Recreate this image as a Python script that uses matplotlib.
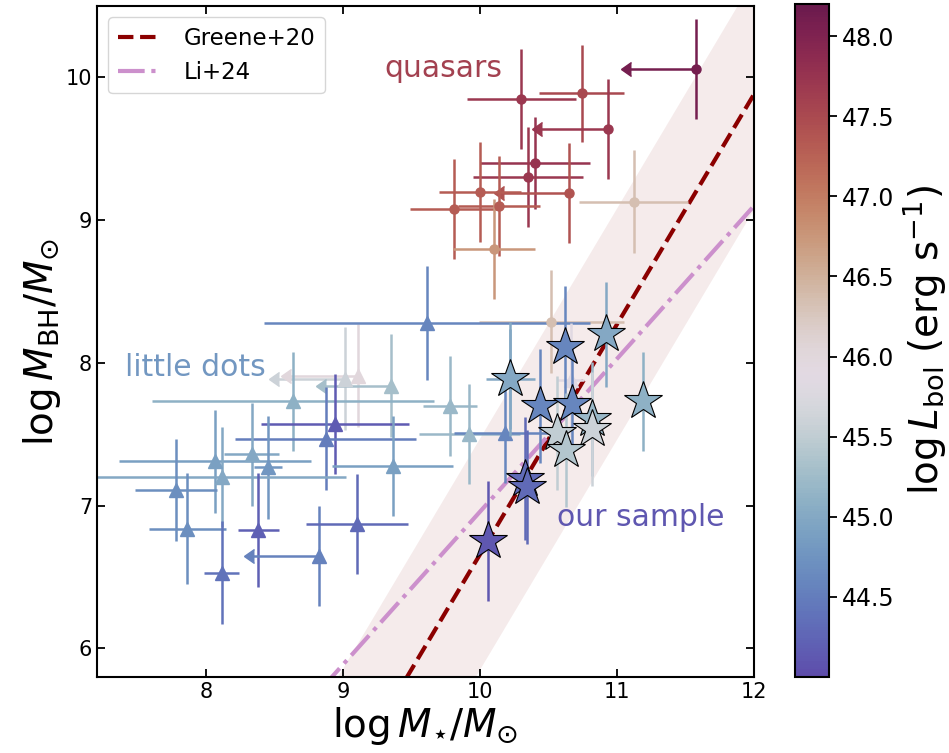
import numpy as np
import matplotlib.pyplot as plt
from matplotlib.colors import LinearSegmentedColormap, Normalize
from matplotlib.markers import CARETLEFTBASE

# quasars (circles); qso_lim = upper limit on stellar mass
qso_x = [10.30, 10.74, 10.93, 11.58, 10.40, 10.35, 10.65, 10.00, 10.14, 9.81, 10.10, 11.12, 10.52]
qso_y = [9.85, 9.89, 9.64, 10.06, 9.40, 9.30, 9.19, 9.20, 9.10, 9.08, 8.80, 9.13, 8.29]
qso_xerr = [0.40, 0.31, 0.48, 0.48, 0.40, 0.40, 0.48, 0.30, 0.30, 0.32, 0.30, 0.40, 0.53]
qso_yerr = [0.35, 0.34, 0.35, 0.35, 0.32, 0.35, 0.35, 0.35, 0.35, 0.35, 0.35, 0.36, 0.36]
qso_lbol = [47.7, 47.5, 47.7, 48.1, 47.75, 47.7, 47.4, 47.3, 47.3, 47.3, 46.75, 46.35, 46.35]
qso_lim = [False, False, True, True, False, False, True, False, False, False, False, False, False]

# little dots (triangles)
ld_x = [9.01, 9.11, 9.35, 8.63, 8.94, 8.87, 9.36, 8.33, 8.06, 8.45, 8.11, 7.78, 7.86,
        8.38, 8.11, 8.82, 9.10, 9.61, 9.78, 9.92, 10.18, 10.66, 10.22]
ld_y = [7.89, 7.91, 7.84, 7.73, 7.57, 7.47, 7.28, 7.36, 7.31, 7.27, 7.20, 7.11, 6.84,
        6.83, 6.53, 6.65, 6.87, 8.28, 7.70, 7.50, 7.51, 7.88, 7.89]
ld_xerr = [0.48, 0.49, 0.48, 1.03, 0.54, 0.66, 0.44, 0.20, 0.70, 0.10, 0.91, 0.30, 0.28,
           0.15, 0.13, 0.47, 0.37, 1.19, 0.20, 0.37, 0.37, 0.10, 0.18]
ld_yerr = [0.36, 0.36, 0.36, 0.35, 0.35, 0.36, 0.35, 0.36, 0.36, 0.36, 0.35, 0.36, 0.39,
           0.40, 0.36, 0.35, 0.35, 0.40, 0.35, 0.35, 0.35, 0.40, 0.35]
ld_lbol = [45.6, 46.0, 45.3, 45.1, 44.15, 44.5, 44.9, 45.0, 44.9, 44.8, 45.0, 44.7, 44.7,
           44.2, 44.4, 44.55, 44.3, 44.6, 45.2, 45.2, 44.6, 45.85, 45.0]
ld_lim = [True, True, True, False, False, False, False, False, False, False, False, False, False,
          False, False, True, False, False, False, False, False, False, False]

# our sample (stars)
our_x = [10.62, 10.92, 10.22, 10.44, 10.67, 10.82, 10.56, 10.82, 10.63, 11.19, 10.33, 10.34, 10.06]
our_y = [8.11, 8.20, 7.89, 7.70, 7.71, 7.61, 7.51, 7.54, 7.39, 7.73, 7.19, 7.13, 6.75]
our_yerr = [0.43, 0.37, 0.40, 0.40, 0.40, 0.40, 0.40, 0.40, 0.40, 0.35, 0.43, 0.40, 0.42]
our_lbol = [44.6, 45.0, 45.0, 44.6, 44.6, 45.2, 45.5, 45.6, 45.4, 45.1, 44.3, 44.3, 44.1]

base = plt.get_cmap('twilight_shifted')
cmap = LinearSegmentedColormap.from_list('tw_cut', base(np.linspace(0.18, 0.89, 256)))
norm = Normalize(vmin=44.0, vmax=48.2)

fig = plt.figure(figsize=(9.49, 7.53), dpi=100)
ax = fig.add_axes([0.1022, 0.1009, 0.6923, 0.8911])
cax = fig.add_axes([0.8377, 0.1009, 0.0358, 0.8938])

xx = np.linspace(7.2, 12, 200)
greene = 7.43 + 1.61 * (xx - np.log10(3e10))
li = 9.10 + 1.07 * (xx - 12)
ax.fill_between(xx, greene - 0.81, greene + 0.81, color='darkred', alpha=0.08, lw=0, zorder=0)
ax.plot(xx, greene, '--', color='darkred', lw=3, label='Greene+20', zorder=1)
ax.plot(xx, li, '-.', color='#cc90cc', lw=3, label='Li+24', zorder=1)


def draw(xs, ys, xe, ye, lb, lim, marker, ms, z):
    for i in range(len(xs)):
        c = cmap(norm(lb[i]))
        if lim[i]:
            ax.errorbar(xs[i], ys[i], yerr=ye[i], fmt=marker, ms=ms, color=c,
                        elinewidth=1.8, capsize=0, zorder=z)
            ax.plot([xs[i] - xe[i], xs[i]], [ys[i], ys[i]], color=c, lw=1.8, zorder=z)
            ax.plot(xs[i] - xe[i], ys[i], marker=CARETLEFTBASE, ms=10, color=c, zorder=z)
        else:
            ax.errorbar(xs[i], ys[i], xerr=xe[i], yerr=ye[i], fmt=marker, ms=ms, color=c,
                        elinewidth=1.8, capsize=0, zorder=z)


draw(qso_x, qso_y, qso_xerr, qso_yerr, qso_lbol, qso_lim, 'o', 6.5, 2)
draw(ld_x, ld_y, ld_xerr, ld_yerr, ld_lbol, ld_lim, '^', 10, 2)

for i in range(len(our_x)):
    c = cmap(norm(our_lbol[i]))
    ax.errorbar(our_x[i], our_y[i], yerr=our_yerr[i], fmt='none', ecolor=c,
                elinewidth=1.8, capsize=0, zorder=3)
for i in range(len(our_x)):
    ax.plot(our_x[i], our_y[i], marker='*', ms=29, color=cmap(norm(our_lbol[i])),
            mec='black', mew=0.8, zorder=4)

ax.text(9.73, 10.06, 'quasars', color=cmap(norm(47.6)), fontsize=21.5, ha='center', va='center')
ax.text(7.92, 7.97, 'little dots', color=cmap(norm(44.8)), fontsize=21.5, ha='center', va='center')
ax.text(11.17, 6.92, 'our sample', color=cmap(norm(44.1)), fontsize=21.5, ha='center', va='center')

ax.set_xlim(7.2, 12)
ax.set_ylim(5.8, 10.5)
ax.set_xticks([8, 9, 10, 11, 12])
ax.set_yticks([6, 7, 8, 9, 10])
ax.tick_params(direction='in', top=True, right=True, labelsize=15, length=6, width=1.3)
for s in ax.spines.values():
    s.set_linewidth(1.5)
ax.set_xlabel(r'$\log M_{\star}/M_{\odot}$', fontsize=28, labelpad=2)
ax.set_ylabel(r'$\log M_{\rm BH}/M_{\odot}$', fontsize=28, labelpad=2)
ax.legend(loc='upper left', fontsize=16.5, handlelength=1.9, handletextpad=1.0)

sm = plt.cm.ScalarMappable(cmap=cmap, norm=norm)
cb = fig.colorbar(sm, cax=cax)
cb.set_ticks([44.5, 45.0, 45.5, 46.0, 46.5, 47.0, 47.5, 48.0])
cb.ax.tick_params(labelsize=17, length=6, width=1.3)
cb.outline.set_linewidth(1.5)
cb.set_label(r'$\log L_{\rm bol}$ (erg s$^{-1}$)', fontsize=28)

fig.savefig('out.png', dpi=100)
